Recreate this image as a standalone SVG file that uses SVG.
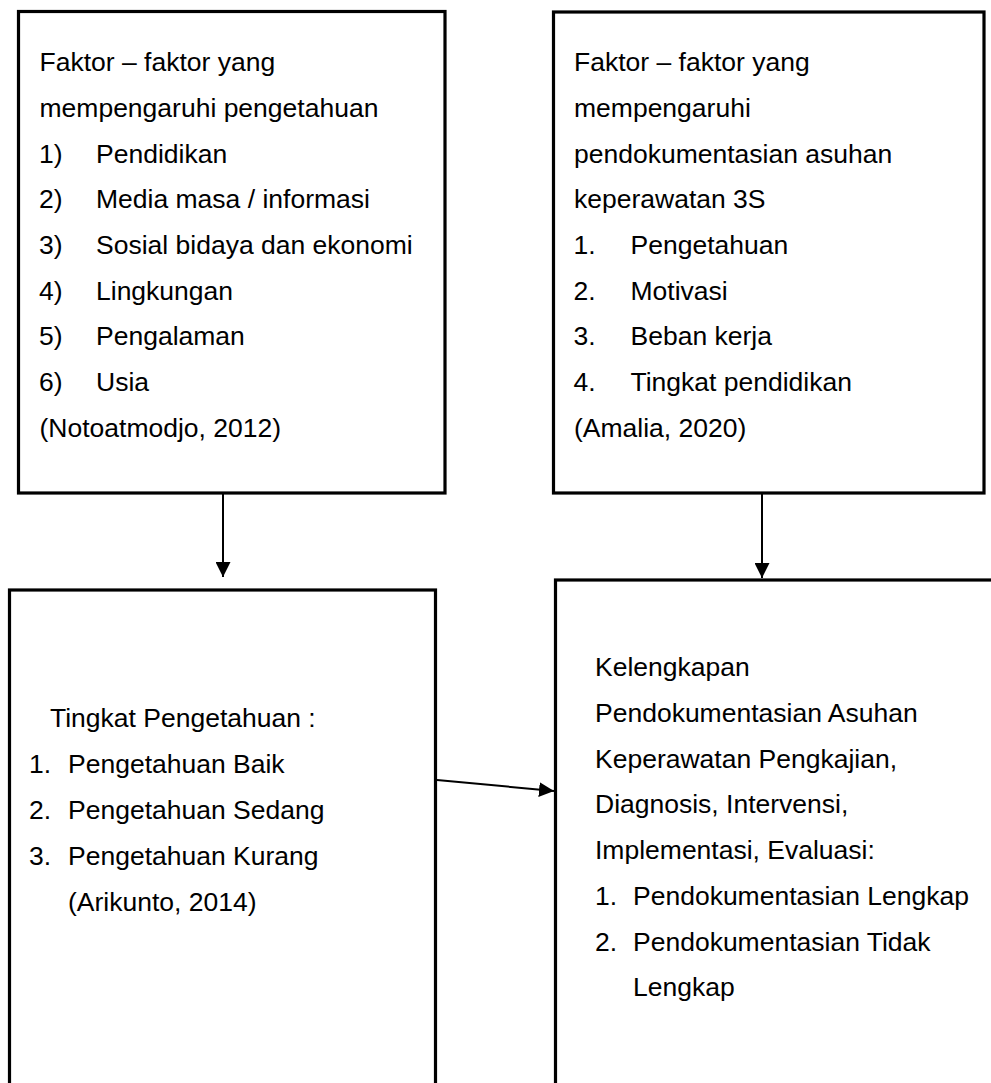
<svg xmlns="http://www.w3.org/2000/svg" width="991" height="1083" viewBox="0 0 991 1083">
<style>
.box{fill:none;stroke:#000;stroke-width:3.2}
.t{font-family:"Liberation Sans",Arial,sans-serif;font-size:26.5px;fill:#000}
.c{stroke:#000;stroke-width:2;fill:none}
</style>
<defs>
<marker id="ah" viewBox="0 0 10 10" refX="10" refY="5" markerUnits="userSpaceOnUse" markerWidth="15" markerHeight="15" orient="auto">
<path d="M0,0 L10,5 L0,10 Z" fill="#000"/>
</marker>
</defs>
<rect width="991" height="1083" fill="#fff"/>
<g id="node-faktor-pengetahuan">
<rect class="box" x="18.5" y="11.5" width="426.5" height="481.5"/>
<text class="t" x="39.5" y="71">Faktor – faktor yang</text>
<text class="t" x="39.5" y="117">mempengaruhi pengetahuan</text>
<text class="t" x="39" y="163">1)</text><text class="t" x="96" y="163">Pendidikan</text>
<text class="t" x="39" y="208">2)</text><text class="t" x="96" y="208">Media masa / informasi</text>
<text class="t" x="39" y="254">3)</text><text class="t" x="96" y="254">Sosial bidaya dan ekonomi</text>
<text class="t" x="39" y="300">4)</text><text class="t" x="96" y="300">Lingkungan</text>
<text class="t" x="39" y="345">5)</text><text class="t" x="96" y="345">Pengalaman</text>
<text class="t" x="39" y="391">6)</text><text class="t" x="96" y="391">Usia</text>
<text class="t" x="39.5" y="437">(Notoatmodjo, 2012)</text>
</g>
<g id="node-faktor-dokumentasi">
<rect class="box" x="553.5" y="12" width="430.5" height="481"/>
<text class="t" x="574" y="71">Faktor – faktor yang</text>
<text class="t" x="574" y="117">mempengaruhi</text>
<text class="t" x="574" y="163">pendokumentasian asuhan</text>
<text class="t" x="574" y="208">keperawatan 3S</text>
<text class="t" x="573.5" y="254">1.</text><text class="t" x="630.5" y="254">Pengetahuan</text>
<text class="t" x="573.5" y="300">2.</text><text class="t" x="630.5" y="300">Motivasi</text>
<text class="t" x="573.5" y="345">3.</text><text class="t" x="630.5" y="345">Beban kerja</text>
<text class="t" x="573.5" y="391">4.</text><text class="t" x="630.5" y="391">Tingkat pendidikan</text>
<text class="t" x="574" y="437">(Amalia, 2020)</text>
</g>
<g id="node-tingkat-pengetahuan">
<rect class="box" x="9.5" y="590" width="426" height="520"/>
<text class="t" x="50" y="727">Tingkat Pengetahuan :</text>
<text class="t" x="29" y="773">1.</text><text class="t" x="68" y="773">Pengetahuan Baik</text>
<text class="t" x="29" y="819">2.</text><text class="t" x="68" y="819">Pengetahuan Sedang</text>
<text class="t" x="29" y="865">3.</text><text class="t" x="68" y="865">Pengetahuan Kurang</text>
<text class="t" x="68" y="911">(Arikunto, 2014)</text>
</g>
<g id="node-kelengkapan">
<rect class="box" x="555.5" y="580" width="460" height="530"/>
<text class="t" x="595" y="676">Kelengkapan</text>
<text class="t" x="595" y="722">Pendokumentasian Asuhan</text>
<text class="t" x="595" y="768">Keperawatan Pengkajian,</text>
<text class="t" x="595" y="813">Diagnosis, Intervensi,</text>
<text class="t" x="595" y="859">Implementasi, Evaluasi:</text>
<text class="t" x="595" y="905">1.</text><text class="t" x="633" y="905">Pendokumentasian Lengkap</text>
<text class="t" x="595" y="951">2.</text><text class="t" x="633" y="951">Pendokumentasian Tidak</text>
<text class="t" x="633" y="996">Lengkap</text>
</g>
<g id="connectors">
<line class="c" x1="223" y1="494" x2="223" y2="577" marker-end="url(#ah)"/>
<line class="c" x1="762" y1="494" x2="762" y2="578" marker-end="url(#ah)"/>
<line class="c" x1="437" y1="780" x2="554" y2="791" marker-end="url(#ah)"/>
</g>
</svg>
